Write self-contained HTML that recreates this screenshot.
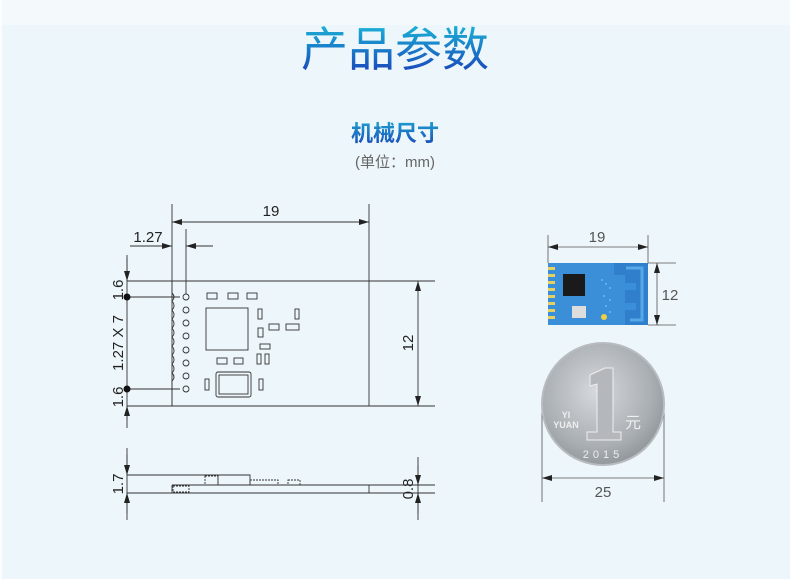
<!DOCTYPE html>
<html><head><meta charset="utf-8"><style>
html,body{margin:0;padding:0;width:790px;height:579px;overflow:hidden;background:#edf6fa}
svg{display:block}
text{font-family:"Liberation Sans","DejaVu Sans",sans-serif}
.cjk{font-family:"Liberation Sans","Noto Sans CJK SC",sans-serif}
</style></head><body>
<svg width="790" height="579" viewBox="0 0 790 579" xmlns="http://www.w3.org/2000/svg">
<defs>
<linearGradient id="tg" x1="0" y1="0" x2="0" y2="1">
<stop offset="0" stop-color="#1ab6d8"/><stop offset="1" stop-color="#1a3fb8"/></linearGradient>
<linearGradient id="tg2" x1="0" y1="0" x2="0" y2="1">
<stop offset="0" stop-color="#1d9fd0"/><stop offset="1" stop-color="#1a48b8"/></linearGradient>
<radialGradient id="coin" cx="0.45" cy="0.4" r="0.65">
<stop offset="0" stop-color="#d6d9dd"/><stop offset="0.7" stop-color="#a9aeb3"/><stop offset="1" stop-color="#8c9196"/></radialGradient>
<marker id="a" viewBox="0 0 10 6" refX="10" refY="3" markerWidth="16" markerHeight="6" markerUnits="userSpaceOnUse" orient="auto-start-reverse"><path d="M0,0L10,3L0,6z" fill="#222"/></marker>
</defs>
<rect x="0" y="0" width="790" height="25" fill="#f4f9fb"/>
<rect x="0" y="0" width="2" height="579" fill="#fbfdfe"/>
<text x="395" y="66" text-anchor="middle" class="cjk" font-size="47" fill="url(#tg)">产品参数</text>
<text x="395" y="141" text-anchor="middle" class="cjk" font-size="22" font-weight="bold" fill="url(#tg2)">机械尺寸</text>
<text x="395" y="167" text-anchor="middle" class="cjk" font-size="15" fill="#666">(单位：mm)</text>

<g stroke="#333" stroke-width="0.9" fill="none">
<line x1="172" y1="204" x2="172" y2="406"/>
<line x1="369" y1="204" x2="369" y2="406"/>
<line x1="127" y1="281" x2="435" y2="281"/>
<line x1="127" y1="406" x2="435" y2="406"/>
<line x1="172" y1="222" x2="369" y2="222" marker-start="url(#a)" marker-end="url(#a)"/>
<line x1="186" y1="229" x2="186" y2="294"/>
<line x1="130" y1="246" x2="172" y2="246" marker-end="url(#a)"/>
<line x1="213" y1="246" x2="186" y2="246" marker-end="url(#a)"/>
<line x1="127" y1="255" x2="127" y2="420"/>
<line x1="127" y1="258" x2="127" y2="281" marker-end="url(#a)"/>
<line x1="127" y1="428" x2="127" y2="406" marker-end="url(#a)"/>
<line x1="418" y1="281" x2="418" y2="406" marker-start="url(#a)" marker-end="url(#a)"/>
<line x1="127" y1="297" x2="180" y2="297"/>
<line x1="127" y1="389" x2="180" y2="389"/>
<path d="M172,281 V293 q4,4 0,8 q4,5 0,9 q4,5 0,9 q4,5 0,9 q4,5 0,9 q4,5 0,9 q4,5 0,9 q4,5 0,9 q4,5 0,9 q4,4 0,8 V406"/>
<g>
<circle cx="186" cy="297" r="3"/><circle cx="186" cy="310" r="3"/><circle cx="186" cy="323" r="3"/><circle cx="186" cy="336" r="3"/><circle cx="186" cy="350" r="3"/><circle cx="186" cy="363" r="3"/><circle cx="186" cy="376" r="3"/><circle cx="186" cy="389" r="3"/>
</g>
<rect x="207" y="293" width="10" height="6"/><rect x="228" y="293" width="10" height="6"/><rect x="247" y="293" width="10" height="6"/>
<rect x="206" y="308" width="42" height="42"/>
<rect x="258" y="309" width="4" height="10"/><rect x="295" y="309" width="4" height="10"/>
<rect x="286" y="324" width="13" height="6"/>
<rect x="258" y="328" width="5" height="9"/><rect x="269" y="324" width="10" height="6"/>
<rect x="260" y="344" width="10" height="5"/>
<rect x="257" y="354" width="4" height="10"/><rect x="265" y="354" width="4" height="10"/>
<rect x="217" y="358" width="10" height="6"/><rect x="234" y="358" width="9" height="6"/>
<rect x="216" y="372" width="35" height="25" rx="2"/><rect x="219" y="375" width="29" height="19"/>
<rect x="205" y="379" width="4" height="11"/><rect x="259" y="379" width="4" height="11"/>
<line x1="127" y1="448" x2="127" y2="520"/>
<line x1="127" y1="455" x2="127" y2="475" marker-end="url(#a)"/>
<line x1="127" y1="513" x2="127" y2="493" marker-end="url(#a)"/>
<line x1="127" y1="475" x2="250" y2="475"/>
<line x1="172" y1="485" x2="435" y2="485"/>
<line x1="127" y1="493" x2="435" y2="493"/>
<line x1="172" y1="485" x2="172" y2="493"/><line x1="369" y1="485" x2="369" y2="493"/>
<rect x="173" y="486" width="16" height="6" stroke-dasharray="2,1"/>
<rect x="205" y="476" width="13" height="9" stroke-dasharray="2,1"/>
<rect x="218" y="475" width="32" height="10"/>
<rect x="250" y="480" width="28" height="5" stroke-dasharray="2,1"/>
<rect x="288" y="480" width="12" height="5" stroke-dasharray="2,1"/>
<line x1="418" y1="457" x2="418" y2="520"/>
<line x1="418" y1="465" x2="418" y2="485" marker-end="url(#a)"/>
<line x1="418" y1="513" x2="418" y2="493" marker-end="url(#a)"/>
</g>
<circle cx="127" cy="297" r="3.5" fill="#111"/><circle cx="127" cy="389" r="3.5" fill="#111"/>
<g font-size="15" fill="#222">
<text x="271" y="216" text-anchor="middle">19</text>
<text x="148" y="242" text-anchor="middle">1.27</text>
<text transform="translate(413,343) rotate(-90)" text-anchor="middle">12</text>
<text transform="translate(123,290) rotate(-90)" text-anchor="middle">1.6</text>
<text transform="translate(123,343) rotate(-90)" text-anchor="middle">1.27 X 7</text>
<text transform="translate(123,397) rotate(-90)" text-anchor="middle">1.6</text>
<text transform="translate(123,484) rotate(-90)" text-anchor="middle">1.7</text>
<text transform="translate(413,489) rotate(-90)" text-anchor="middle">0.8</text>
</g>

<g stroke="#555" stroke-width="0.8" fill="none">
<line x1="548" y1="235" x2="548" y2="263"/><line x1="648" y1="235" x2="648" y2="263"/>
<line x1="548" y1="247" x2="648" y2="247" marker-start="url(#a)" marker-end="url(#a)"/>
<line x1="648" y1="263" x2="676" y2="263"/><line x1="648" y1="325" x2="676" y2="325"/>
<line x1="657" y1="263" x2="657" y2="325" marker-start="url(#a)" marker-end="url(#a)"/>
<line x1="542" y1="400" x2="542" y2="502"/><line x1="664" y1="400" x2="664" y2="502"/>
<line x1="542" y1="478" x2="664" y2="478" marker-start="url(#a)" marker-end="url(#a)"/>
</g>
<g font-size="15" fill="#555">
<text x="597" y="242" text-anchor="middle">19</text>
<text x="670" y="300" text-anchor="middle">12</text>
<text x="603" y="497" text-anchor="middle">25</text>
</g>
<rect x="548" y="263" width="100" height="62" fill="#3a8fd8"/>
<path d="M614,263 H648 V325 H625 V310 H636 V303 H625 V290 H636 V283 H625 V275 H614z" fill="#2f7fcc"/>
<path d="M626,268 H642 V320 H630" stroke="#56a8e8" stroke-width="3" fill="none"/>
<g fill="#e8d060"><rect x="548" y="267" width="7" height="3"/><rect x="548" y="274" width="7" height="3"/><rect x="548" y="281" width="7" height="3"/><rect x="548" y="288" width="7" height="3"/><rect x="548" y="295" width="7" height="3"/><rect x="548" y="302" width="7" height="3"/><rect x="548" y="309" width="7" height="3"/><rect x="548" y="316" width="7" height="3"/></g>
<rect x="563" y="274" width="22" height="22" fill="#1a1a1a"/>
<rect x="572" y="306" width="14" height="12" fill="#ddd"/>
<circle cx="604" cy="317" r="3" fill="#f0d040"/>
<g fill="#6cb8f0"><circle cx="602" cy="280" r="1"/><circle cx="606" cy="284" r="1"/><circle cx="610" cy="288" r="1"/><circle cx="604" cy="296" r="1"/><circle cx="610" cy="300" r="1"/><circle cx="606" cy="306" r="1"/><circle cx="610" cy="312" r="1"/></g>
<circle cx="603" cy="404" r="61" fill="url(#coin)" stroke="#b8bcc0" stroke-width="2"/>
<path d="M590,375 L605,368 H613 V432 H621 V440 H587 V432 H597 V384 L590,386z" fill="#b4b8bc" stroke="#eee" stroke-width="1"/>
<text x="566" y="418" text-anchor="middle" font-size="9" font-weight="bold" fill="#eee">YI</text>
<text x="566" y="428" text-anchor="middle" font-size="9" font-weight="bold" fill="#eee">YUAN</text>
<text x="633" y="428" text-anchor="middle" class="cjk" font-size="16" fill="#eee">元</text>
<text x="603" y="458" text-anchor="middle" font-size="11" fill="#eee" letter-spacing="4">2015</text>
</svg>
</body></html>
